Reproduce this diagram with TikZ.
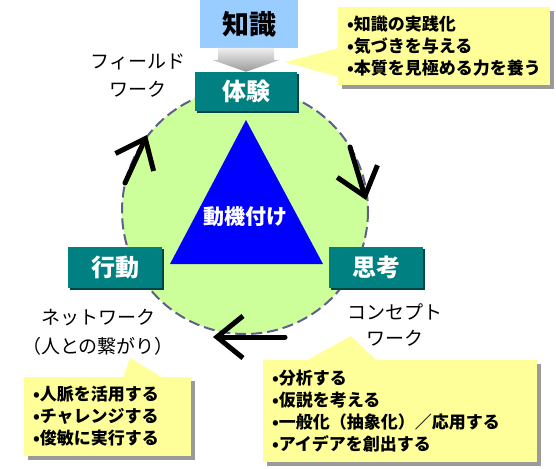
\documentclass[tikz,border=0pt]{standalone}
\usepackage{fontspec}
\setmainfont{Noto Sans CJK JP}
\usetikzlibrary{arrows.meta,calc,positioning,shadows}
\definecolor{CycInk}{HTML}{000000}
\definecolor{CycSky}{HTML}{99CCFF}
\definecolor{CycTeal}{HTML}{008080}
\definecolor{CycTealDark}{HTML}{004545}
\definecolor{CycLime}{HTML}{CCFF99}
\definecolor{CycRim}{HTML}{5F5F8C}
\definecolor{CycBlue}{HTML}{0000FF}
\definecolor{CycNote}{HTML}{FFFF99}
\definecolor{CycShadow}{HTML}{9A9A9A}
\tikzset{
  every node/.style={text=CycInk, inner sep=0pt},
  stage/.style={fill=CycTeal, text=white, font=\fontsize{24pt}{24pt}\selectfont\bfseries,
    minimum width=94pt, minimum height=41pt,
    drop shadow={shadow xshift=2pt, shadow yshift=-2pt, opacity=1, fill=CycTealDark}},
  note/.style={fill=CycNote, font=\fontsize{17pt}{22pt}\selectfont\bfseries, align=left, inner xsep=9pt,
    drop shadow={shadow xshift=4pt, shadow yshift=-4pt, opacity=1, fill=CycShadow}},
  notetip/.style={fill=CycNote},
  caption/.style={font=\fontsize{19pt}{28pt}\selectfont, align=center},
  ring/.style={fill=CycLime, draw=CycRim, line width=2pt, dash pattern=on 11pt off 5pt},
  turn/.style={-{Straight Barb[length=26pt,width=42pt]}, draw=CycInk, line width=5pt, line cap=round},
}

\begin{document}
\begin{tikzpicture}[x=1pt,y=-1pt]
  \useasboundingbox (0,0) rectangle (556,468);

  % Cycle: dashed green disc with the blue triangle inside
  \draw[ring] (245,211) circle[radius=123];
  \coordinate (apex) at (246,120);
  \coordinate (baseL) at (170,264);
  \coordinate (baseR) at (323,264);
  \fill[CycBlue] (apex) -- (baseR) -- (baseL) -- cycle;
  \node[text=white, font=\fontsize{21pt}{21pt}\selectfont\bfseries] (douki) at (245,217) {動機付け};

  % Turning arrows on the rim
  \coordinate (fieldFrom) at (125,183);
  \coordinate (fieldTo) at (147,135);
  \coordinate (conceptFrom) at (350,147);
  \coordinate (conceptTo) at (366,200);
  \coordinate (netFrom) at (285,337);
  \coordinate (netTo) at (213,337);
  \draw[turn] (fieldFrom) -- (fieldTo);
  \draw[turn] (conceptFrom) -- (conceptTo);
  \draw[turn] (netFrom) -- (netTo);

  % Stages
  \node[stage, minimum width=102pt, minimum height=39pt] (taiken) at (246,91.5) {体験};
  \node[stage] (shikou) at (376,267.5) {思考};
  \node[stage] (koudou) at (115,267.5) {行動};

  % Knowledge box and the broad grey arrow into the first stage
  \node[fill=CycSky, minimum width=98pt, minimum height=48pt,
    font=\fontsize{27pt}{27pt}\selectfont\bfseries] (chishiki) at (249,24) {知識};
  \shade[top color=gray!12, bottom color=gray!80]
    ($(taiken.north)+(-28,-24)$) -- ($(taiken.north)+(28,-24)$) -- ($(taiken.north)+(28,-12)$)
    -- ($(taiken.north)+(34,-12)$) -- (taiken.north) -- ($(taiken.north)+(-34,-12)$)
    -- ($(taiken.north)+(-28,-12)$) -- cycle;

  % Labels beside the rim
  \node[caption] (fieldLbl) at (138,76) {フィールド\\ワーク};
  \node[caption, font=\fontsize{19pt}{26pt}\selectfont] (conceptLbl) at (395,325) {コンセプト\\ワーク};
  \node[caption, font=\fontsize{19pt}{29pt}\selectfont] (netLbl) at (98,332) {ネットワーク\\（人との繋がり）};

  % Callout: knowledge
  \node[note, text width=194pt, minimum height=78pt] (tipKnow) at (444,46)
    {•知識の実践化\\•気づきを与える\\•本質を見極める力を養う};
  \coordinate (knowPoint) at (285,62);
  \fill[notetip] ($(tipKnow.west)+(1,2)$) -- (knowPoint) -- ($(tipKnow.west)+(1,31)$) -- cycle;

  % Callout: action
  \node[note, text width=149pt, minimum height=79pt] (tipAct) at (107.5,416.5)
    {•人脈を活用する\\•チャレンジする\\•俊敏に実行する};
  \coordinate (actPoint) at (130,358);
  \fill[notetip] ($(tipAct.north)+(15.5,1)$) -- (actPoint) -- ($(tipAct.north)+(55.5,1)$) -- cycle;

  % Callout: thinking
  \node[note, text width=256pt, minimum height=102pt] (tipThink) at (400,411)
    {•分析する\\•仮説を考える\\•一般化（抽象化）／応用する\\•アイデアを創出する};
  \coordinate (thinkPoint) at (351,336);
  \fill[notetip] ($(tipThink.north)+(-94,1)$) -- (thinkPoint) -- ($(tipThink.north)+(-23,1)$) -- cycle;
\end{tikzpicture}
\end{document}
